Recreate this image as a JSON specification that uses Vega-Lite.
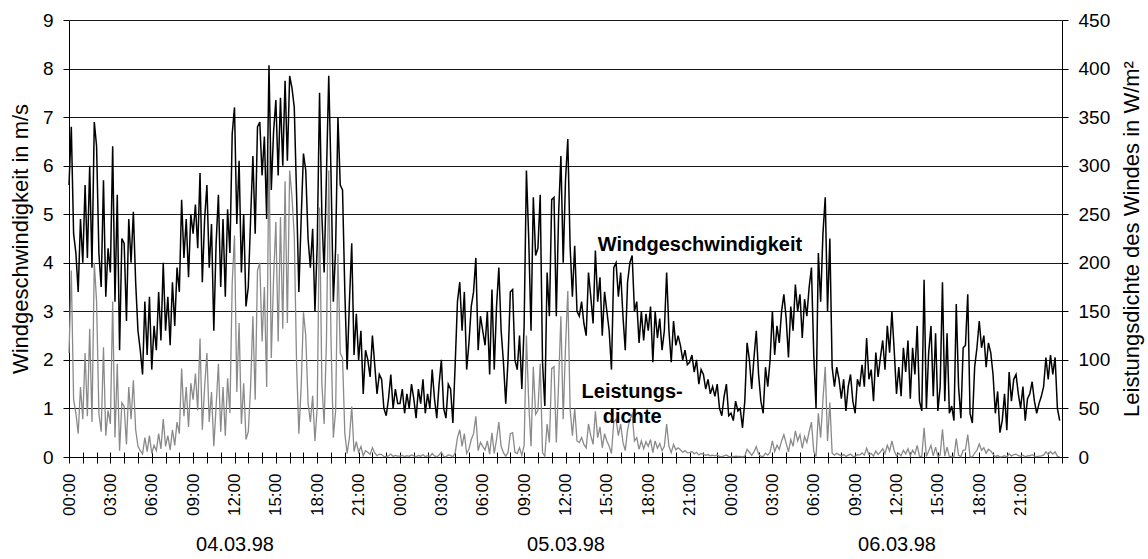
{
"$schema": "https://vega.github.io/schema/vega-lite/v6.json",
"width": 993, "height": 437,
"autosize": "none",
"padding": {"left": 69, "top": 20, "right": 86, "bottom": 102},
"background": "white",
"config": {"view": {"stroke": null}, "font": "Liberation Sans",
  "axis": {"labelColor": "#000", "titleColor": "#000", "domainColor": "#000", "tickColor": "#000", "titleFontWeight": "normal", "labelFont": "Liberation Sans", "titleFont": "Liberation Sans"}},
"datasets": {
"notes": [
{"m":2745,"y":4.37,"label":"Windgeschwindigkeit"},
{"m":2450,"y":1.33,"label":"Leistungs-\ndichte"}
],
"wind": [
{"m":0,"v":5.6,"p":107},{"m":10,"v":6.8,"p":192},{"m":20,"v":4.6,"p":59},{"m":30,"v":4.2,"p":45},{"m":40,"v":3.4,"p":24},{"m":50,"v":4.9,"p":72},
{"m":60,"v":4.0,"p":39},{"m":70,"v":5.6,"p":107},{"m":80,"v":4.1,"p":42},{"m":90,"v":6.0,"p":132},{"m":100,"v":3.9,"p":36},{"m":110,"v":6.9,"p":200},
{"m":120,"v":6.4,"p":160},{"m":130,"v":4.2,"p":45},{"m":140,"v":3.5,"p":26},{"m":150,"v":5.7,"p":113},{"m":160,"v":3.3,"p":22},{"m":170,"v":4.3,"p":48},
{"m":180,"v":3.8,"p":34},{"m":190,"v":6.4,"p":160},{"m":200,"v":3.2,"p":20},{"m":210,"v":5.4,"p":96},{"m":220,"v":2.2,"p":6.5},{"m":230,"v":4.5,"p":56},
{"m":240,"v":4.4,"p":52},{"m":250,"v":2.8,"p":13},{"m":260,"v":4.9,"p":72},{"m":270,"v":4.0,"p":39},{"m":280,"v":5.05,"p":79},{"m":290,"v":3.6,"p":28},
{"m":300,"v":2.6,"p":11},{"m":310,"v":2.2,"p":6.5},{"m":320,"v":1.7,"p":3},{"m":330,"v":3.2,"p":20},{"m":340,"v":2.1,"p":5.6},{"m":350,"v":3.3,"p":22},
{"m":360,"v":1.8,"p":3.6},{"m":370,"v":2.7,"p":12},{"m":380,"v":2.2,"p":6.5},{"m":390,"v":3.4,"p":24},{"m":400,"v":2.4,"p":8.4},{"m":410,"v":4.0,"p":39},
{"m":420,"v":2.6,"p":11},{"m":430,"v":3.3,"p":22},{"m":440,"v":2.3,"p":7.4},{"m":450,"v":3.6,"p":28},{"m":460,"v":2.7,"p":12},{"m":470,"v":3.9,"p":36},
{"m":480,"v":3.4,"p":24},{"m":490,"v":5.3,"p":91},{"m":500,"v":4.1,"p":42},{"m":510,"v":4.9,"p":72},{"m":520,"v":3.7,"p":31},{"m":530,"v":5.0,"p":76},
{"m":540,"v":4.6,"p":59},{"m":550,"v":5.2,"p":86},{"m":560,"v":4.3,"p":48},{"m":570,"v":5.85,"p":122},{"m":580,"v":3.6,"p":28},{"m":590,"v":4.9,"p":72},
{"m":600,"v":5.6,"p":107},{"m":610,"v":3.9,"p":36},{"m":620,"v":4.8,"p":67},{"m":630,"v":2.6,"p":11},{"m":640,"v":4.4,"p":52},{"m":650,"v":5.4,"p":96},
{"m":660,"v":3.5,"p":26},{"m":670,"v":4.9,"p":72},{"m":680,"v":3.3,"p":22},{"m":690,"v":5.1,"p":81},{"m":700,"v":4.2,"p":45},{"m":710,"v":6.65,"p":179},
{"m":720,"v":7.2,"p":228},{"m":730,"v":4.8,"p":67},{"m":740,"v":6.1,"p":138},{"m":750,"v":3.8,"p":34},{"m":760,"v":5.0,"p":76},{"m":770,"v":3.1,"p":18},
{"m":780,"v":3.5,"p":26},{"m":790,"v":4.9,"p":72},{"m":800,"v":6.2,"p":145},{"m":810,"v":4.6,"p":59},{"m":820,"v":6.8,"p":192},{"m":830,"v":6.9,"p":200},
{"m":840,"v":5.8,"p":119},{"m":850,"v":6.6,"p":175},{"m":860,"v":4.9,"p":72},{"m":870,"v":8.07,"p":321},{"m":880,"v":5.5,"p":102},{"m":890,"v":6.7,"p":184},
{"m":900,"v":7.35,"p":242},{"m":910,"v":5.8,"p":119},{"m":920,"v":7.4,"p":247},{"m":930,"v":6.0,"p":132},{"m":940,"v":7.75,"p":284},{"m":950,"v":6.1,"p":138},
{"m":960,"v":7.85,"p":295},{"m":970,"v":7.6,"p":268},{"m":980,"v":7.2,"p":228},{"m":990,"v":5.4,"p":96},{"m":1000,"v":3.4,"p":24},{"m":1010,"v":4.9,"p":72},
{"m":1020,"v":6.25,"p":149},{"m":1030,"v":5.9,"p":125},{"m":1040,"v":4.5,"p":56},{"m":1050,"v":3.9,"p":36},{"m":1060,"v":4.7,"p":63},{"m":1070,"v":3.0,"p":16.5},
{"m":1080,"v":4.4,"p":52},{"m":1090,"v":7.5,"p":257},{"m":1100,"v":5.0,"p":76},{"m":1110,"v":3.8,"p":34},{"m":1120,"v":5.8,"p":119},{"m":1130,"v":7.85,"p":295},
{"m":1140,"v":5.8,"p":119},{"m":1150,"v":3.2,"p":20},{"m":1160,"v":4.3,"p":48},{"m":1170,"v":7.0,"p":209},{"m":1180,"v":5.6,"p":107},{"m":1190,"v":5.5,"p":102},
{"m":1200,"v":3.4,"p":24},{"m":1210,"v":1.8,"p":3.6},{"m":1220,"v":3.2,"p":20},{"m":1230,"v":4.4,"p":52},{"m":1240,"v":2.1,"p":5.6},{"m":1250,"v":2.95,"p":15.7},
{"m":1260,"v":2.0,"p":4.9},{"m":1270,"v":2.6,"p":10.7},{"m":1280,"v":1.3,"p":1.3},{"m":1290,"v":2.2,"p":6.5},{"m":1300,"v":2.0,"p":4.9},{"m":1310,"v":1.65,"p":2.7},
{"m":1320,"v":2.5,"p":9.5},{"m":1330,"v":1.9,"p":4.2},{"m":1340,"v":1.3,"p":1.3},{"m":1350,"v":1.7,"p":3.0},{"m":1360,"v":1.6,"p":2.5},{"m":1370,"v":1.0,"p":0.6},
{"m":1380,"v":0.85,"p":0.4},{"m":1390,"v":1.2,"p":1.1},{"m":1400,"v":1.7,"p":3.0},{"m":1410,"v":1.0,"p":0.6},{"m":1420,"v":1.4,"p":1.7},{"m":1430,"v":1.1,"p":0.8},
{"m":1440,"v":1.1,"p":0.8},{"m":1450,"v":1.4,"p":1.7},{"m":1460,"v":0.9,"p":0.4},{"m":1470,"v":1.3,"p":1.3},{"m":1480,"v":1.0,"p":0.6},{"m":1490,"v":1.5,"p":2.1},
{"m":1500,"v":1.2,"p":1.1},{"m":1510,"v":0.8,"p":0.3},{"m":1520,"v":1.4,"p":1.7},{"m":1530,"v":1.1,"p":0.8},{"m":1540,"v":1.6,"p":2.5},{"m":1550,"v":0.9,"p":0.4},
{"m":1560,"v":1.3,"p":1.3},{"m":1570,"v":1.0,"p":0.6},{"m":1580,"v":1.8,"p":3.6},{"m":1590,"v":1.2,"p":1.1},{"m":1600,"v":0.8,"p":0.3},{"m":1610,"v":1.5,"p":2.1},
{"m":1620,"v":2.0,"p":4.9},{"m":1630,"v":1.0,"p":0.6},{"m":1640,"v":0.8,"p":0.3},{"m":1650,"v":1.5,"p":2.1},{"m":1660,"v":1.4,"p":1.7},{"m":1670,"v":0.7,"p":0.2},
{"m":1680,"v":1.9,"p":4.2},{"m":1690,"v":3.2,"p":20},{"m":1700,"v":3.6,"p":28},{"m":1710,"v":2.6,"p":11},{"m":1720,"v":3.4,"p":24},{"m":1730,"v":1.8,"p":3.6},
{"m":1740,"v":2.35,"p":7.9},{"m":1750,"v":3.1,"p":18},{"m":1760,"v":3.4,"p":24},{"m":1770,"v":4.1,"p":42},{"m":1780,"v":2.2,"p":6.5},{"m":1790,"v":2.9,"p":15},
{"m":1800,"v":2.6,"p":11},{"m":1810,"v":2.3,"p":7.4},{"m":1820,"v":3.0,"p":16.5},{"m":1830,"v":1.7,"p":3.0},{"m":1840,"v":3.45,"p":25},{"m":1850,"v":1.8,"p":3.6},
{"m":1860,"v":3.1,"p":18},{"m":1870,"v":3.9,"p":36},{"m":1880,"v":2.6,"p":11},{"m":1890,"v":1.95,"p":4.5},{"m":1900,"v":1.1,"p":0.8},{"m":1910,"v":2.0,"p":4.9},
{"m":1920,"v":3.4,"p":24},{"m":1930,"v":3.45,"p":25},{"m":1940,"v":2.0,"p":4.9},{"m":1950,"v":1.8,"p":3.6},{"m":1960,"v":2.5,"p":9.5},{"m":1970,"v":1.4,"p":1.7},
{"m":1980,"v":2.7,"p":12},{"m":1990,"v":5.9,"p":125},{"m":2000,"v":4.5,"p":56},{"m":2010,"v":2.6,"p":11},{"m":2020,"v":5.35,"p":93},{"m":2030,"v":4.15,"p":44},
{"m":2040,"v":4.3,"p":48},{"m":2050,"v":5.4,"p":96},{"m":2060,"v":1.95,"p":4.5},{"m":2070,"v":1.05,"p":0.7},{"m":2080,"v":3.8,"p":34},{"m":2090,"v":2.9,"p":15},
{"m":2100,"v":5.3,"p":91},{"m":2110,"v":5.35,"p":93},{"m":2120,"v":2.9,"p":15},{"m":2130,"v":5.0,"p":76},{"m":2140,"v":6.2,"p":145},{"m":2150,"v":4.0,"p":39},
{"m":2160,"v":5.7,"p":113},{"m":2170,"v":6.55,"p":171},{"m":2180,"v":4.35,"p":50},{"m":2190,"v":3.3,"p":22},{"m":2200,"v":4.35,"p":50},{"m":2210,"v":3.0,"p":16.5},
{"m":2220,"v":2.9,"p":15},{"m":2230,"v":3.2,"p":20},{"m":2240,"v":2.75,"p":13},{"m":2250,"v":2.5,"p":9.5},{"m":2260,"v":3.8,"p":34},{"m":2270,"v":3.3,"p":22},
{"m":2280,"v":2.75,"p":13},{"m":2290,"v":4.25,"p":47},{"m":2300,"v":3.2,"p":20},{"m":2310,"v":3.7,"p":31},{"m":2320,"v":2.5,"p":9.5},{"m":2330,"v":3.4,"p":24},
{"m":2340,"v":3.0,"p":16.5},{"m":2350,"v":2.6,"p":11},{"m":2360,"v":1.8,"p":3.6},{"m":2370,"v":3.9,"p":36},{"m":2380,"v":4.0,"p":39},{"m":2390,"v":3.3,"p":22},
{"m":2400,"v":3.8,"p":34},{"m":2410,"v":2.9,"p":15},{"m":2420,"v":2.2,"p":6.5},{"m":2430,"v":3.6,"p":28},{"m":2440,"v":4.0,"p":39},{"m":2450,"v":4.15,"p":44},
{"m":2460,"v":3.0,"p":16.5},{"m":2470,"v":3.2,"p":20},{"m":2480,"v":2.35,"p":7.9},{"m":2490,"v":3.0,"p":16.5},{"m":2500,"v":2.4,"p":8.4},{"m":2510,"v":2.95,"p":15.7},
{"m":2520,"v":2.6,"p":11},{"m":2530,"v":3.1,"p":18},{"m":2540,"v":1.95,"p":4.5},{"m":2550,"v":3.0,"p":16.5},{"m":2560,"v":2.45,"p":9},{"m":2570,"v":2.85,"p":14},
{"m":2580,"v":2.2,"p":6.5},{"m":2590,"v":2.6,"p":11},{"m":2600,"v":3.8,"p":34},{"m":2610,"v":2.6,"p":11},{"m":2620,"v":1.95,"p":4.5},{"m":2630,"v":2.8,"p":13},
{"m":2640,"v":2.3,"p":7.4},{"m":2650,"v":2.5,"p":9.5},{"m":2660,"v":2.3,"p":7.4},{"m":2670,"v":2.0,"p":4.9},{"m":2680,"v":2.2,"p":6.5},{"m":2690,"v":1.9,"p":4.2},
{"m":2700,"v":1.95,"p":4.5},{"m":2710,"v":2.1,"p":5.6},{"m":2720,"v":1.75,"p":3.3},{"m":2730,"v":2.0,"p":4.9},{"m":2740,"v":1.5,"p":2.1},{"m":2750,"v":1.8,"p":3.6},
{"m":2760,"v":1.7,"p":3.0},{"m":2770,"v":1.4,"p":1.7},{"m":2780,"v":1.6,"p":2.5},{"m":2790,"v":1.3,"p":1.3},{"m":2800,"v":1.45,"p":1.9},{"m":2810,"v":1.25,"p":1.2},
{"m":2820,"v":1.5,"p":2.1},{"m":2830,"v":1.0,"p":0.6},{"m":2840,"v":0.85,"p":0.4},{"m":2850,"v":1.25,"p":1.2},{"m":2860,"v":1.5,"p":2.1},{"m":2870,"v":0.85,"p":0.4},
{"m":2880,"v":0.9,"p":0.4},{"m":2890,"v":0.75,"p":0.3},{"m":2900,"v":1.15,"p":0.9},{"m":2910,"v":0.95,"p":0.5},{"m":2920,"v":1.0,"p":0.6},{"m":2930,"v":0.6,"p":0.1},
{"m":2940,"v":1.15,"p":0.9},{"m":2950,"v":2.35,"p":7.9},{"m":2960,"v":2.0,"p":4.9},{"m":2970,"v":1.4,"p":1.7},{"m":2980,"v":2.05,"p":5.3},{"m":2990,"v":2.6,"p":10.7},
{"m":3000,"v":1.7,"p":3.0},{"m":3010,"v":1.15,"p":0.9},{"m":3020,"v":0.9,"p":0.4},{"m":3030,"v":1.85,"p":3.9},{"m":3040,"v":1.45,"p":1.9},{"m":3050,"v":2.0,"p":4.9},
{"m":3060,"v":3.0,"p":16.5},{"m":3070,"v":2.1,"p":5.6},{"m":3080,"v":2.7,"p":12},{"m":3090,"v":2.35,"p":7.9},{"m":3100,"v":3.0,"p":16.5},{"m":3110,"v":3.35,"p":23},
{"m":3120,"v":2.85,"p":14},{"m":3130,"v":2.05,"p":5.3},{"m":3140,"v":3.1,"p":18},{"m":3150,"v":2.6,"p":11},{"m":3160,"v":3.55,"p":27},{"m":3170,"v":3.0,"p":16.5},
{"m":3180,"v":3.35,"p":23},{"m":3190,"v":2.45,"p":9},{"m":3200,"v":3.25,"p":21},{"m":3210,"v":2.9,"p":15},{"m":3220,"v":3.5,"p":26},{"m":3230,"v":3.9,"p":36},
{"m":3240,"v":2.1,"p":5.6},{"m":3250,"v":1.0,"p":0.6},{"m":3260,"v":4.2,"p":45},{"m":3270,"v":3.2,"p":20},{"m":3280,"v":4.6,"p":59},{"m":3290,"v":5.35,"p":93},
{"m":3300,"v":3.0,"p":16.5},{"m":3310,"v":4.5,"p":56},{"m":3320,"v":1.85,"p":3.9},{"m":3330,"v":1.45,"p":1.9},{"m":3340,"v":1.85,"p":3.9},{"m":3350,"v":1.6,"p":2.5},
{"m":3360,"v":1.2,"p":1.1},{"m":3370,"v":1.6,"p":2.5},{"m":3380,"v":0.95,"p":0.5},{"m":3390,"v":1.45,"p":1.9},{"m":3400,"v":1.7,"p":3.0},{"m":3410,"v":1.15,"p":0.9},
{"m":3420,"v":0.9,"p":0.4},{"m":3430,"v":1.6,"p":2.5},{"m":3440,"v":1.45,"p":1.9},{"m":3450,"v":1.9,"p":4.2},{"m":3460,"v":1.45,"p":1.9},{"m":3470,"v":2.45,"p":9},
{"m":3480,"v":1.6,"p":2.5},{"m":3490,"v":1.8,"p":3.6},{"m":3500,"v":1.15,"p":0.9},{"m":3510,"v":2.15,"p":6.1},{"m":3520,"v":1.65,"p":2.7},{"m":3530,"v":2.05,"p":5.3},
{"m":3540,"v":2.4,"p":8.4},{"m":3550,"v":1.8,"p":3.6},{"m":3560,"v":2.7,"p":12},{"m":3570,"v":2.15,"p":6.1},{"m":3580,"v":3.0,"p":16.5},{"m":3590,"v":2.2,"p":6.5},
{"m":3600,"v":1.3,"p":1.3},{"m":3610,"v":1.85,"p":3.9},{"m":3620,"v":1.25,"p":1.2},{"m":3630,"v":2.25,"p":6.9},{"m":3640,"v":1.75,"p":3.3},{"m":3650,"v":2.4,"p":8.4},
{"m":3660,"v":1.2,"p":1.1},{"m":3670,"v":2.25,"p":6.9},{"m":3680,"v":1.7,"p":3.0},{"m":3690,"v":2.7,"p":12},{"m":3700,"v":1.15,"p":0.9},{"m":3710,"v":0.95,"p":0.5},
{"m":3720,"v":3.65,"p":30},{"m":3730,"v":1.0,"p":0.6},{"m":3740,"v":2.15,"p":6.1},{"m":3750,"v":2.7,"p":12},{"m":3760,"v":1.25,"p":1.2},{"m":3770,"v":2.55,"p":10.1},
{"m":3780,"v":0.95,"p":0.5},{"m":3790,"v":1.45,"p":1.9},{"m":3800,"v":3.6,"p":28.5},{"m":3810,"v":1.15,"p":0.9},{"m":3820,"v":2.55,"p":10.1},{"m":3830,"v":0.9,"p":0.4},
{"m":3840,"v":1.05,"p":0.7},{"m":3850,"v":0.75,"p":0.3},{"m":3860,"v":3.15,"p":19},{"m":3870,"v":1.45,"p":1.9},{"m":3880,"v":0.8,"p":0.3},{"m":3890,"v":2.25,"p":6.9},
{"m":3900,"v":2.3,"p":7.4},{"m":3910,"v":3.35,"p":23},{"m":3920,"v":0.9,"p":0.4},{"m":3930,"v":0.7,"p":0.2},{"m":3940,"v":1.85,"p":3.9},{"m":3950,"v":2.25,"p":6.9},
{"m":3960,"v":2.8,"p":13.4},{"m":3970,"v":2.25,"p":6.9},{"m":3980,"v":2.5,"p":9.5},{"m":3990,"v":1.85,"p":3.9},{"m":4000,"v":2.35,"p":7.9},{"m":4010,"v":2.15,"p":6.1},
{"m":4020,"v":1.7,"p":3.0},{"m":4030,"v":0.9,"p":0.4},{"m":4040,"v":1.35,"p":1.5},{"m":4050,"v":0.5,"p":0.1},{"m":4060,"v":0.75,"p":0.3},{"m":4070,"v":1.3,"p":1.3},
{"m":4080,"v":0.55,"p":0.1},{"m":4090,"v":1.75,"p":3.3},{"m":4100,"v":1.15,"p":0.9},{"m":4110,"v":1.6,"p":2.5},{"m":4120,"v":1.7,"p":3.0},{"m":4130,"v":1.3,"p":1.3},
{"m":4140,"v":1.0,"p":0.6},{"m":4150,"v":1.45,"p":1.9},{"m":4160,"v":0.75,"p":0.3},{"m":4170,"v":1.2,"p":1.1},{"m":4180,"v":1.3,"p":1.3},{"m":4190,"v":1.55,"p":2.3},
{"m":4200,"v":1.15,"p":0.9},{"m":4210,"v":0.9,"p":0.4},{"m":4220,"v":1.1,"p":0.8},{"m":4230,"v":1.25,"p":1.2},{"m":4240,"v":1.45,"p":1.9},{"m":4250,"v":2.05,"p":5.3},
{"m":4260,"v":1.6,"p":2.5},{"m":4270,"v":2.1,"p":5.6},{"m":4280,"v":1.7,"p":3.0},{"m":4290,"v":2.05,"p":5.3},{"m":4300,"v":1.0,"p":0.6},{"m":4310,"v":0.75,"p":0.3}
]
},
"layer": [
  {
    "data": {"name": "wind"},
    "mark": {"type": "line", "color": "#000000", "strokeWidth": 1.5},
    "encoding": {
      "x": {"field": "m", "type": "quantitative",
        "scale": {"domain": [0, 4320], "nice": false, "zero": false},
        "axis": {"orient": "bottom", "title": null, "grid": false,
          "values": [0,60,120,180,240,300,360,420,480,540,600,660,720,780,840,900,960,1020,1080,1140,1200,1260,1320,1380,1440,1500,1560,1620,1680,1740,1800,1860,1920,1980,2040,2100,2160,2220,2280,2340,2400,2460,2520,2580,2640,2700,2760,2820,2880,2940,3000,3060,3120,3180,3240,3300,3360,3420,3480,3540,3600,3660,3720,3780,3840,3900,3960,4020,4080,4140,4200,4260,4320],
          "tickSize": 6, "tickWidth": 1, "domainWidth": 1,
          "labelExpr": "datum.value % 180 == 0 && datum.value < 4320 ? (floor(datum.value / 60) % 24 < 10 ? '0' : '') + floor(datum.value / 60) % 24 + ':00' : ''",
          "labelAngle": 270, "labelFontSize": 17, "labelPadding": 10, "labelOverlap": false, "labelFlush": false, "labelBound": false}},
      "y": {"field": "v", "type": "quantitative",
        "scale": {"domain": [0, 9], "nice": false, "zero": true},
        "axis": {"orient": "left", "values": [0, 1, 2, 3, 4, 5, 6, 7, 8, 9], "grid": true, "gridColor": "#1a1a1a", "gridWidth": 1, "gridOpacity": 1,
          "tickSize": 6, "labelPadding": 10, "labelFontSize": 19, "title": "Windgeschwindigkeit in m/s", "titleFontSize": 22, "titlePadding": 10}}
    }
  },
  {
    "data": {"name": "wind"},
    "mark": {"type": "line", "color": "#8a8a8a", "strokeWidth": 1.3},
    "encoding": {
      "x": {"field": "m", "type": "quantitative",
        "scale": {"domain": [0, 4320], "nice": false, "zero": false},
        "axis": {"orient": "bottom", "title": null, "grid": false, "domain": false,
          "values": [0,60,120,180,240,300,360,420,480,540,600,660,720,780,840,900,960,1020,1080,1140,1200,1260,1320,1380,1440,1500,1560,1620,1680,1740,1800,1860,1920,1980,2040,2100,2160,2220,2280,2340,2400,2460,2520,2580,2640,2700,2760,2820,2880,2940,3000,3060,3120,3180,3240,3300,3360,3420,3480,3540,3600,3660,3720,3780,3840,3900,3960,4020,4080,4140,4200,4260,4320],
          "tickSize": -5, "tickWidth": 1,
          "labelExpr": "datum.value == 720 ? '04.03.98' : datum.value == 2160 ? '05.03.98' : datum.value == 3600 ? '06.03.98' : ''",
          "labelAngle": 0, "labelFontSize": 20, "labelPadding": 82, "labelOverlap": false, "labelFlush": false, "labelBound": false, "labelBaseline": "top"}},
      "y": {"field": "p", "type": "quantitative",
        "scale": {"domain": [0, 450], "nice": false, "zero": true},
        "axis": {"orient": "right", "values": [0, 50, 100, 150, 200, 250, 300, 350, 400, 450], "grid": false, "tickSize": 6, "labelPadding": 10, "labelFontSize": 19,
          "title": "Leistungsdichte des Windes in W/m²", "titleFontSize": 22, "titleAngle": 270, "titleBaseline": "top", "titlePadding": 12}}
    }
  },
  {
    "data": {"name": "notes"},
    "mark": {"type": "text", "fontWeight": "bold", "fontSize": 20, "lineBreak": "\n", "lineHeight": 25, "align": "center", "baseline": "middle", "color": "#000"},
    "encoding": {
      "x": {"field": "m", "type": "quantitative", "axis": null},
      "y": {"field": "y", "type": "quantitative", "scale": {"domain": [0, 9], "nice": false, "zero": true}, "axis": null},
      "text": {"field": "label"}
    }
  }
],
"resolve": {"scale": {"y": "independent"}, "axis": {"x": "independent", "y": "independent"}}
}
